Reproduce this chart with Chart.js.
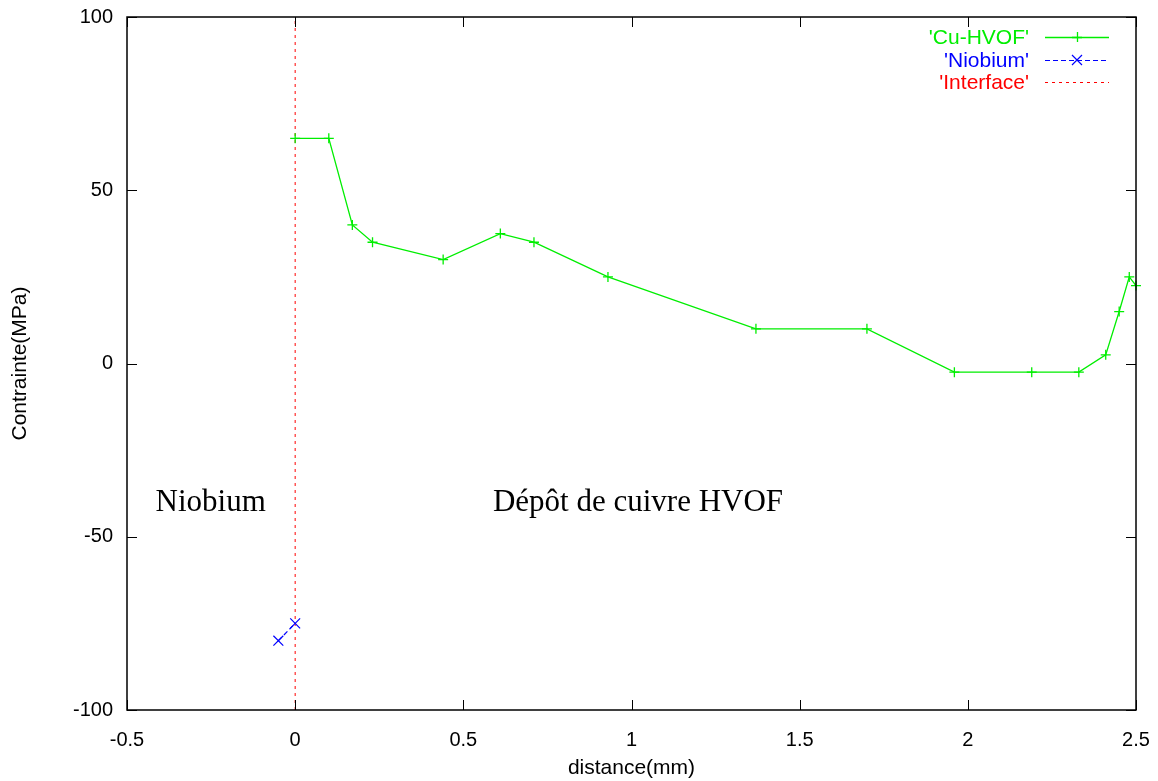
<!DOCTYPE html>
<html>
<head>
<meta charset="utf-8">
<script src="https://cdn.jsdelivr.net/npm/chart.js@4"></script>
<style>
  html, body { margin: 0; padding: 0; background: #fff; }
  #wrap { width: 1158px; height: 781px; }
</style>
</head>
<body>
<div id="wrap"><canvas id="stressChart"></canvas></div>
<script>
// données
const cuX = [0, 0.1, 0.17, 0.23, 0.44, 0.61, 0.71, 0.93, 1.37, 1.70, 1.96, 2.19, 2.33, 2.41, 2.45, 2.48, 2.5];
const cuY = [65, 65, 40, 35, 30, 37.5, 35, 25, 10, 10, -2.5, -2.5, -2.5, 2.5, 15, 25, 22.5];
const nbX = [-0.05, 0];
const nbY = [-80, -75];
const ifaceX = [0, 0];
const ifaceY = [-100, 100];

const seriesNames = ["'Cu-HVOF'", "'Niobium'", "'Interface'"];
const xTicks = [-0.5, 0, 0.5, 1, 1.5, 2, 2.5];
const yTicks = [-100, -50, 0, 50, 100];

const noteTexts = ['Niobium', 'Dépôt de cuivre HVOF'];
const noteX = [-0.415, 0.588];
const noteY = [-42.6, -42.6];

const toPts = (xs, ys) => xs.map((x, i) => ({ x: x, y: ys[i] }));

Chart.defaults.color = '#000';
Chart.defaults.font.family = '"Liberation Sans", Arial, sans-serif';

// cadre, graduations intérieures, légende et textes
const gnuplotLook = {
  id: 'gnuplotLook',
  afterDraw(chart) {
    const ctx = chart.ctx;
    const a = chart.chartArea;
    const sx = chart.scales.x, sy = chart.scales.y;
    const tl = 10;
    ctx.save();
    ctx.strokeStyle = '#000';
    ctx.lineWidth = 1.5;
    ctx.setLineDash([]);
    ctx.strokeRect(a.left, a.top, a.right - a.left, a.bottom - a.top);
    ctx.lineWidth = 1;
    ctx.beginPath();
    xTicks.forEach(v => {
      const px = Math.round(sx.getPixelForValue(v)) + 0.5;
      ctx.moveTo(px, a.bottom); ctx.lineTo(px, a.bottom - tl);
      ctx.moveTo(px, a.top); ctx.lineTo(px, a.top + tl);
    });
    yTicks.forEach(v => {
      const py = Math.round(sy.getPixelForValue(v)) + 0.5;
      ctx.moveTo(a.left, py); ctx.lineTo(a.left + tl, py);
      ctx.moveTo(a.right, py); ctx.lineTo(a.right - tl, py);
    });
    ctx.stroke();

    // textes dans le graphique
    ctx.fillStyle = '#000';
    ctx.font = '31px "Liberation Serif", "Times New Roman", serif';
    ctx.textAlign = 'left';
    ctx.textBaseline = 'alphabetic';
    noteTexts.forEach((t, i) => {
      ctx.fillText(t, sx.getPixelForValue(noteX[i]), sy.getPixelForValue(noteY[i]));
    });

    // légende
    const textRight = 1029, lineL = 1045, lineR = 1109, rows = [37, 60, 82];
    ctx.font = '21px "Liberation Sans", Arial, sans-serif';
    ctx.textAlign = 'right';
    ctx.textBaseline = 'middle';
    chart.data.datasets.forEach((ds, i) => {
      const y = rows[i];
      ctx.fillStyle = ds.borderColor;
      ctx.fillText(seriesNames[i], textRight, y + 1);
      ctx.strokeStyle = ds.borderColor;
      ctx.lineWidth = ds.borderWidth;
      ctx.setLineDash(ds.borderDash || []);
      ctx.beginPath();
      ctx.moveTo(lineL, y + 0.5); ctx.lineTo(lineR, y + 0.5);
      ctx.stroke();
      ctx.setLineDash([]);
      const mx = (lineL + lineR) / 2;
      if (ds.pointStyle === 'cross') {
        ctx.beginPath();
        ctx.moveTo(mx - 5, y + 0.5); ctx.lineTo(mx + 5, y + 0.5);
        ctx.moveTo(mx + 0.5, y - 5); ctx.lineTo(mx + 0.5, y + 5);
        ctx.stroke();
      } else if (ds.pointStyle === 'crossRot') {
        ctx.beginPath();
        ctx.moveTo(mx - 5, y - 5); ctx.lineTo(mx + 5, y + 5);
        ctx.moveTo(mx - 5, y + 5); ctx.lineTo(mx + 5, y - 5);
        ctx.stroke();
      }
    });
    ctx.restore();
  }
};

new Chart(document.getElementById('stressChart'), {
  type: 'scatter',
  data: {
    datasets: [{
      label: seriesNames[0],
      data: toPts(cuX, cuY),
      showLine: true,
      borderColor: '#00ee00',
      backgroundColor: '#00ee00',
      borderWidth: 1.3,
      pointStyle: 'cross',
      pointRadius: 5,
      pointBorderWidth: 1.3,
      clip: false
    }, {
      label: seriesNames[1],
      data: toPts(nbX, nbY),
      showLine: true,
      borderColor: '#0000ff',
      backgroundColor: '#0000ff',
      borderWidth: 1.2,
      borderDash: [5, 3],
      pointStyle: 'crossRot',
      pointRadius: 7,
      pointBorderWidth: 1.2,
      clip: false
    }, {
      label: seriesNames[2],
      data: toPts(ifaceX, ifaceY),
      showLine: true,
      borderColor: '#ff0000',
      borderWidth: 1,
      borderDash: [3, 4],
      pointRadius: 0,
      pointStyle: 'line'
    }]
  },
  options: {
    responsive: true,
    maintainAspectRatio: false,
    animation: false,
    layout: { padding: { top: 17, right: 22, left: 0, bottom: 0 } },
    plugins: { legend: { display: false }, tooltip: { enabled: false } },
    scales: {
      x: {
        type: 'linear',
        min: -0.5, max: 2.5,
        afterFit: s => { s.height = 71; s.paddingLeft = 0; s.paddingRight = 0; },
        afterBuildTicks: s => { s.ticks = xTicks.map(v => ({ value: v })); },
        grid: { display: false, drawTicks: false },
        border: { display: false },
        ticks: { padding: 18, font: { size: 20 }, maxRotation: 0, callback: v => String(v) },
        title: { display: true, text: 'distance(mm)', font: { size: 21 }, padding: { top: 0, bottom: 0 } }
      },
      y: {
        type: 'linear',
        min: -100, max: 100,
        afterFit: s => { s.width = 127; s.paddingTop = 0; s.paddingBottom = 0; },
        afterBuildTicks: s => { s.ticks = yTicks.map(v => ({ value: v })); },
        grid: { display: false, drawTicks: false },
        border: { display: false },
        ticks: { padding: 14, font: { size: 20 }, callback: v => String(v) },
        title: { display: true, text: 'Contrainte(MPa)', font: { size: 21 }, padding: { top: 8, bottom: 0 } }
      }
    }
  },
  plugins: [gnuplotLook]
});
</script>
</body>
</html>
